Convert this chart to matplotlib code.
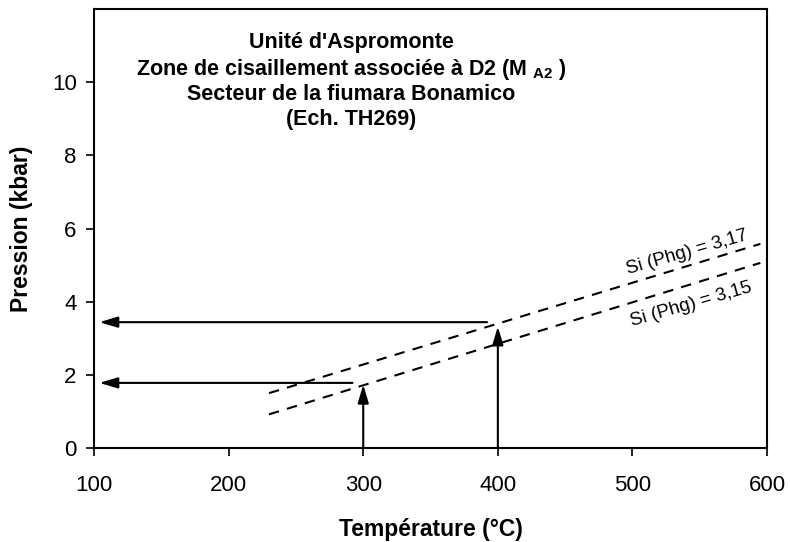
import matplotlib
matplotlib.use("Agg")
from matplotlib import pyplot as plt

plt.rcParams["font.family"] = ["Liberation Sans", "DejaVu Sans"]
plt.rcParams["mathtext.fontset"] = "custom"
plt.rcParams["mathtext.bf"] = "Liberation Sans:bold"
plt.rcParams["mathtext.rm"] = "Liberation Sans:bold"

# isoplethes Si (Phg): (T debut, P debut), (T fin, P fin)
ISO_T = [230, 595]
ISO_317 = [1.50, 5.58]
ISO_315 = [0.92, 5.06]
ISO_LABELS = ["Si (Phg) = 3,17", "Si (Phg) = 3,15"]

# fleches verticales (temperature -> pression sur l'isoplethe)
VERT_T = [300, 400]
VERT_P = [1.73, 3.32]
# fleches horizontales (report de la pression sur l'axe)
HORIZ_P = [1.78, 3.44]
HORIZ_T_START = [292, 392]
HORIZ_T_END = [104, 104]

TITLE_LINES = [
    "Unité d'Aspromonte",
    r"Zone de cisaillement associée à D2 (M $_{\mathbf{A2}}$ )",
    "Secteur de la fiumara Bonamico",
    "(Ech. TH269)",
]
TITLE_Y = [10.93, 10.19, 9.51, 8.83]


def main():
    fig = plt.figure(figsize=(7.9, 5.42), dpi=100)
    ax = fig.add_axes([0.119, 0.1734, 0.852, 0.81])

    ax.plot(ISO_T, ISO_317, color="black", lw=1.5, ls=(0, (5, 4)))
    ax.plot(ISO_T, ISO_315, color="black", lw=1.5, ls=(0, (5, 4)))

    head = "-|>,head_length=1.1,head_width=0.33"
    for t, p in zip(VERT_T, VERT_P):
        ax.annotate("", xy=(t, p), xytext=(t, 0), xycoords="data",
                    arrowprops=dict(arrowstyle=head, color="black", lw=1.5,
                                    shrinkA=0, shrinkB=0))
    for p, t0, t1 in zip(HORIZ_P, HORIZ_T_START, HORIZ_T_END):
        ax.annotate("", xy=(t1, p), xytext=(t0, p), xycoords="data",
                    arrowprops=dict(arrowstyle=head, color="black", lw=1.5,
                                    shrinkA=0, shrinkB=0))

    # etiquettes des isoplethes, paralleles aux lignes
    ax.text(586, 5.70, ISO_LABELS[0], fontsize=13.5, ha="right", va="baseline",
            rotation=16, rotation_mode="anchor")
    ax.text(589, 4.27, ISO_LABELS[1], fontsize=13.5, ha="right", va="baseline",
            rotation=16, rotation_mode="anchor")

    for line, y in zip(TITLE_LINES, TITLE_Y):
        ax.text(291, y, line, fontsize=15.5, fontweight="bold",
                ha="center", va="baseline")

    ax.set_xlim(100, 600)
    ax.set_ylim(0, 12)
    ax.set_xticks([100, 200, 300, 400, 500, 600])
    ax.set_yticks([0, 2, 4, 6, 8, 10])
    ax.tick_params(direction="out", length=5.5, width=1.2, labelsize=16)
    ax.tick_params(axis="x", pad=14)
    ax.tick_params(axis="y", pad=7)
    for s in ax.spines.values():
        s.set_linewidth(1.5)

    ax.set_xlabel("Température (°C)", fontsize=16.5, fontweight="bold")
    ax.set_ylabel("Pression (kbar)", fontsize=16.5, fontweight="bold")
    ax.xaxis.set_label_coords(0.5, -0.159)
    ax.yaxis.set_label_coords(-0.091, 0.5)

    fig.savefig("out.png", dpi=100)


if __name__ == '__main__':
    main()
